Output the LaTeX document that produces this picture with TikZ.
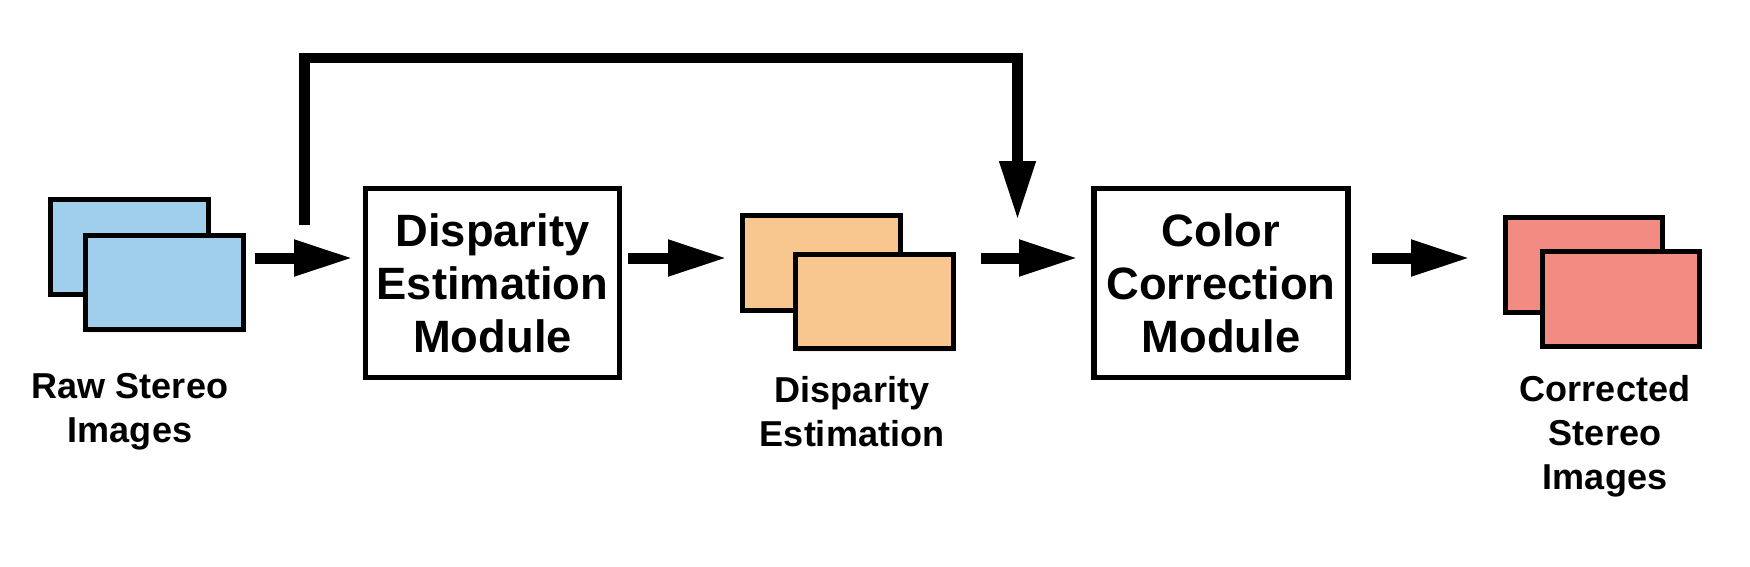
\documentclass[tikz,border=0pt]{standalone}
\usepackage{fontspec}
\setmainfont{Liberation Sans}
\usetikzlibrary{arrows.meta,shadows}
\definecolor{rawblue}{RGB}{160,207,238}
\definecolor{dispor}{RGB}{248,198,143}
\definecolor{corred}{RGB}{242,140,131}
\tikzset{
  imgrect/.style={draw=black, line width=2.9pt, minimum width=3.15cm, minimum height=1.89cm, inner sep=0pt,
    drop shadow={shadow xshift=0.6pt, shadow yshift=-1.6pt, opacity=0.12}},
  modbox/.style={draw=black, line width=2.9pt, fill=white, minimum width=5.08cm, minimum height=3.77cm, inner sep=0pt,
    align=center, font=\bfseries\fontsize{25.8pt}{30.2pt}\selectfont,
    drop shadow={shadow xshift=0.6pt, shadow yshift=-1.6pt, opacity=0.12}},
  lbl/.style={align=center, inner sep=0pt, anchor=north, font=\bfseries\fontsize{20.5pt}{25pt}\selectfont},
  flow/.style={line width=0.22cm, -{Triangle[length=1.18cm, width=0.68cm]}},
  fb/.style={line width=0.21cm, line join=miter, -{Triangle[length=1.18cm, width=0.68cm]}}
}
\begin{document}
\begin{tikzpicture}[x=0.02cm, y=-0.02cm]
\useasboundingbox (0,0) rectangle (1750,566);
% raw stereo images
\node[imgrect, fill=rawblue] (rawback) at (129.5,247) {};
\node[imgrect, fill=rawblue] (rawfront) at (164.5,282.5) {};
\node[lbl] (rawlbl) at (130,373) {Raw Stereo\\Images};
% disparity estimation module
\node[modbox] (dem) at (492.5,283) {Disparity\\Estimation\\Module};
% disparity estimation images
\node[imgrect, fill=dispor] (dispback) at (821.5,263) {};
\node[imgrect, fill=dispor] (dispfront) at (874.5,301.5) {};
\node[lbl] (displbl) at (852,376) {Disparity\\Estimation};
% color correction module
\node[modbox] (ccm) at (1221,283) {Color\\Correction\\Module};
% corrected images
\node[imgrect, fill=corred] (corback) at (1584,265) {};
\node[imgrect, fill=corred] (corfront) at (1621,299) {};
\node[lbl] (corlbl) at (1605,375) {Corrected\\Stereo\\Images};
% arrow coordinates
\coordinate (a1s) at (255,258);
\coordinate (a1e) at (353,258);
\coordinate (a2s) at (628,258);
\coordinate (a2e) at (727,258);
\coordinate (a3s) at (981,258);
\coordinate (a3e) at (1078,258);
\coordinate (a4s) at (1372,258);
\coordinate (a4e) at (1470,258);
\coordinate (fbs) at (304.5,225);
\coordinate (fbe) at (1017.5,220);
\draw[flow] (a1s) -- (a1e);
\draw[flow] (a2s) -- (a2e);
\draw[flow] (a3s) -- (a3e);
\draw[flow] (a4s) -- (a4e);
\draw[fb] (fbs) -- (304.5,58) -- (1017.5,58) -- (fbe);
\end{tikzpicture}
\end{document}
